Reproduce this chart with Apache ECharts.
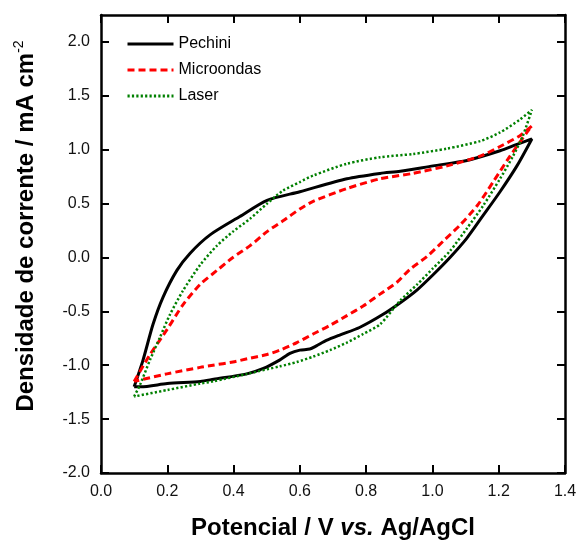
<!DOCTYPE html>
<html>
<head>
<meta charset="utf-8">
<script src="https://cdn.jsdelivr.net/npm/echarts@6/dist/echarts.min.js"></script>
<style>
html,body{margin:0;padding:0;background:#fff;}
#chart{width:581px;height:545px;}
</style>
</head>
<body>
<div id="chart"></div>
<script>
// ---- data ----
const seriesNames = ['Pechini', 'Microondas', 'Laser'];

const pechiniV = [0.10,0.127,0.157,0.187,0.229,0.269,0.329,0.419,0.501,0.600,0.742,0.842,0.903,1.002,1.104,1.204,1.255,1.300,
  1.255,1.204,1.153,1.104,1.053,1.002,0.954,0.903,0.85,0.78,0.72,0.68,0.65,0.63,0.60,0.57,0.54,0.49,0.44,0.34,0.30,0.20,0.12,0.10];
const pechiniI = [-1.20,-0.95,-0.62,-0.37,-0.12,0.04,0.21,0.38,0.53,0.61,0.73,0.78,0.80,0.85,0.90,0.99,1.05,1.10,
  0.85,0.61,0.39,0.18,0.00,-0.16,-0.30,-0.42,-0.53,-0.65,-0.72,-0.77,-0.82,-0.85,-0.86,-0.89,-0.95,-1.03,-1.08,-1.13,-1.15,-1.17,-1.20,-1.20];

const microondasV = [0.10,0.148,0.199,0.247,0.299,0.350,0.398,0.450,0.501,0.549,0.600,0.640,0.742,0.842,0.941,1.044,1.144,1.204,1.264,1.300,
  1.285,1.234,1.183,1.135,1.083,1.032,0.984,0.932,0.893,0.842,0.791,0.742,0.691,0.640,0.591,0.540,0.501,0.441,0.398,0.338,0.299,0.199,0.10];
const microondasI = [-1.15,-0.90,-0.67,-0.44,-0.25,-0.12,0.00,0.11,0.24,0.34,0.45,0.52,0.64,0.73,0.78,0.85,0.94,1.03,1.13,1.22,
  1.16,0.94,0.70,0.48,0.30,0.15,0.01,-0.11,-0.23,-0.34,-0.45,-0.54,-0.63,-0.71,-0.79,-0.86,-0.90,-0.94,-0.97,-1.00,-1.02,-1.08,-1.15];

const laserV = [0.10,0.118,0.148,0.178,0.208,0.247,0.299,0.350,0.398,0.450,0.501,0.549,0.600,0.640,0.742,0.842,0.941,1.044,1.144,1.204,1.264,1.300,
  1.273,1.243,1.204,1.153,1.104,1.053,1.002,0.954,0.903,0.842,0.791,0.742,0.691,0.640,0.591,0.540,0.441,0.338,0.30,0.20,0.10];
const laserI = [-1.29,-1.18,-0.95,-0.74,-0.53,-0.31,-0.07,0.11,0.24,0.36,0.50,0.62,0.70,0.76,0.87,0.93,0.96,1.01,1.08,1.16,1.28,1.37,
  1.13,0.94,0.73,0.48,0.27,0.06,-0.10,-0.25,-0.40,-0.62,-0.71,-0.79,-0.86,-0.92,-0.97,-1.01,-1.08,-1.15,-1.17,-1.23,-1.29];

const xTicks = [0.0,0.2,0.4,0.6,0.8,1.0,1.2,1.4];
const yTicks = [-2.0,-1.5,-1.0,-0.5,0.0,0.5,1.0,1.5,2.0];

// ---- chart ----
const FONT = '"Liberation Sans", Arial, sans-serif';
const zip = (a, b) => a.map((v, i) => [v, b[i]]);

const chart = echarts.init(document.getElementById('chart'), null, {renderer: 'canvas'});

const axisLineStyle = {color: '#000', width: 2.5};
const tickStyle = {show: true, inside: true, length: 8, lineStyle: {color: '#000', width: 2}};
const fmtY = v => (Math.abs(v * 2 - Math.round(v * 2)) < 1e-6 ? v.toFixed(1) : '');
const fmtX = v => (Math.abs(v * 5 - Math.round(v * 5)) < 1e-6 ? v.toFixed(1) : '');

const option = {
  backgroundColor: '#fff',
  animation: false,
  grid: {left: 101, right: 16, top: 15, bottom: 68, containLabel: false},
  legend: {
    orient: 'vertical', left: 126, top: 36, padding: 0,
    itemWidth: 46, itemHeight: 14, itemGap: 10,
    data: seriesNames,
    itemStyle: {opacity: 0},
    lineStyle: {width: 3},
    textStyle: {fontFamily: FONT, fontSize: 16, color: '#000'}
  },
  xAxis: [{
    type: 'value', min: xTicks[0], max: xTicks[xTicks.length - 1], interval: 0.2,
    position: 'bottom',
    axisLine: {show: true, onZero: false, lineStyle: axisLineStyle},
    axisTick: tickStyle,
    splitLine: {show: false},
    axisLabel: {margin: 11, fontFamily: FONT, fontSize: 16, color: '#111', formatter: fmtX},
    name: '{b|Potencial / V }{i|vs.}{b| Ag/AgCl}',
    nameLocation: 'middle', nameGap: 43,
    nameTextStyle: {rich: {
      b: {fontFamily: FONT, fontSize: 24, fontWeight: 'bold', color: '#000'},
      i: {fontFamily: FONT, fontSize: 24, fontWeight: 'bold', fontStyle: 'italic', color: '#000'}
    }}
  }, {
    type: 'value', min: xTicks[0], max: xTicks[xTicks.length - 1], interval: 0.2,
    position: 'top',
    axisLine: {show: true, onZero: false, lineStyle: axisLineStyle},
    axisTick: tickStyle,
    splitLine: {show: false},
    axisLabel: {show: false}
  }],
  yAxis: [{
    type: 'value', min: yTicks[0], max: 2.25, interval: 0.5,
    position: 'left',
    axisLine: {show: true, onZero: false, lineStyle: axisLineStyle},
    axisTick: tickStyle,
    splitLine: {show: false},
    axisLabel: {margin: 11, fontFamily: FONT, fontSize: 16, color: '#111', formatter: fmtY, showMaxLabel: false},
    name: '{b|Densidade de corrente / mA cm}{s|-2}',
    nameLocation: 'middle', nameGap: 61, nameRotate: 90,
    nameTextStyle: {
      padding: [0, 0, 0, 36],
      rich: {
        b: {fontFamily: FONT, fontSize: 24, fontWeight: 'bold', color: '#000', lineHeight: 28},
        s: {fontFamily: FONT, fontSize: 14, color: '#000', verticalAlign: 'top', lineHeight: 28}
      }
    }
  }, {
    type: 'value', min: yTicks[0], max: 2.25, interval: 0.5,
    position: 'right',
    axisLine: {show: true, onZero: false, lineStyle: axisLineStyle},
    axisTick: tickStyle,
    splitLine: {show: false},
    axisLabel: {show: false}
  }],
  series: [{
    name: seriesNames[0], type: 'line', data: zip(pechiniV, pechiniI),
    showSymbol: false, symbol: 'none', smooth: 0.25,
    lineStyle: {color: '#000', width: 3, type: 'solid'},
    itemStyle: {color: '#000'}, z: 3
  }, {
    name: seriesNames[1], type: 'line', data: zip(microondasV, microondasI),
    showSymbol: false, symbol: 'none', smooth: 0.25,
    lineStyle: {color: '#ff0000', width: 3, type: [7, 4]},
    itemStyle: {color: '#ff0000'}, z: 4
  }, {
    name: seriesNames[2], type: 'line', data: zip(laserV, laserI),
    showSymbol: false, symbol: 'none', smooth: 0.25,
    lineStyle: {color: '#008000', width: 2.5, type: [2.2, 2.2]},
    itemStyle: {color: '#008000'}, z: 5
  }]
};
chart.setOption(option);
</script>
</body>
</html>
